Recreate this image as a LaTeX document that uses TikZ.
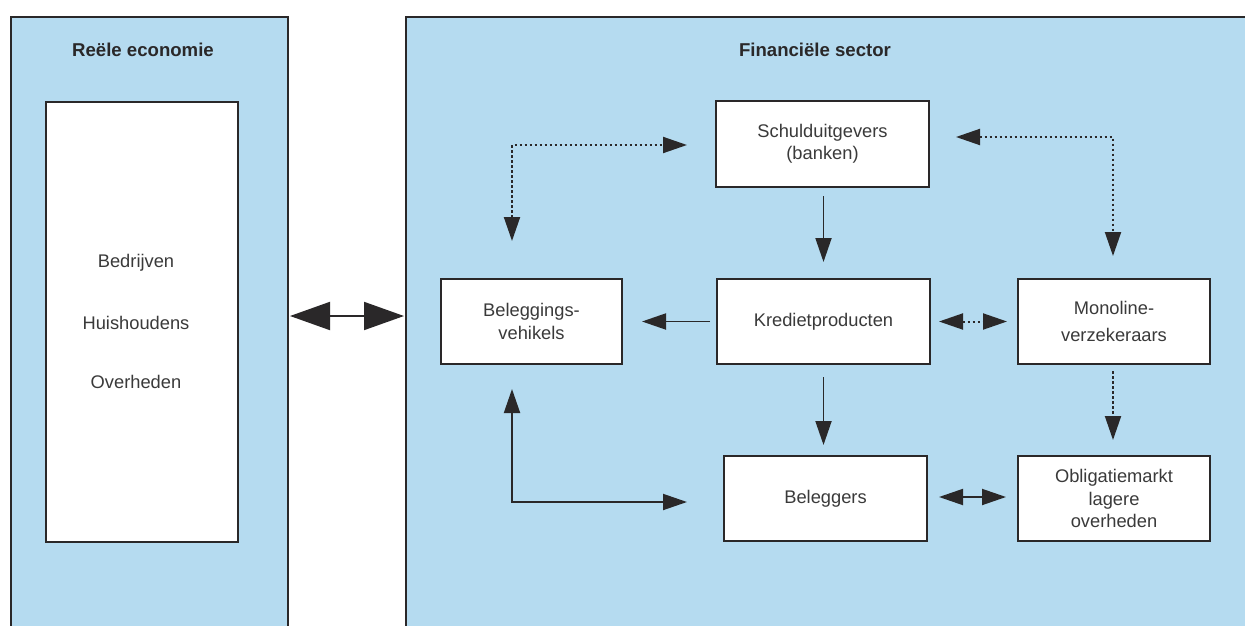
\documentclass[tikz,border=0pt]{standalone}
\usepackage{fontspec}
\setmainfont{Liberation Sans}
\usetikzlibrary{arrows.meta,calc}
\definecolor{panelblue}{HTML}{B5DBF0}
\definecolor{edge}{HTML}{2A2829}
\definecolor{txt}{HTML}{3A3A3A}
\begin{document}
\begin{tikzpicture}[x=1pt,y=-1pt,
  panel/.style={draw=edge,line width=2pt,fill=panelblue,anchor=north west,inner sep=0pt},
  wbox/.style={draw=edge,line width=2pt,fill=white,inner sep=0pt,align=center,text=txt,
    font=\fontsize{18.3}{22.5}\selectfont},
  ttl/.style={font=\fontsize{18.6}{22}\selectfont\bfseries,text=edge},
  plain/.style={font=\fontsize{18.3}{22.5}\selectfont,text=txt},
  sol/.style={draw=edge,line width=1.9pt},
  dotl/.style={draw=edge,line width=2pt,dash pattern=on 2.5pt off 2.5pt},
  tip/.tip={Triangle[length=24pt,width=16pt]},
  bigtip/.tip={Triangle[length=40pt,width=28pt]}]
\useasboundingbox (0,0) rectangle (1245,626);
\clip (0,0) rectangle (1245,626);
% panels
\node[panel,minimum width=277pt,minimum height=640pt] (reel) at (10,16) {};
\node[panel,minimum width=880pt,minimum height=640pt] (fin) at (405,16) {};
\node[ttl] (reelt) at (143,50) {Reële economie};
\node[ttl] (fint) at (815,50) {Financiële sector};
% left inner box
\node[wbox,anchor=north west,minimum width=192pt,minimum height=440pt] (inner) at (45,101) {};
\node[plain] (bed) at (136,263) {Bedrijven};
\node[plain] (hui) at (136,323) {Huishoudens};
\node[plain] (ovh) at (136,382) {Overheden};
% boxes
\node[wbox,minimum width=213pt,minimum height=86pt] (sd) at (822.5,144) {Schulduitgevers\\(banken)};
\node[wbox,minimum width=181pt,minimum height=85pt] (bv) at (531.5,321.5) {Beleggings-\\vehikels};
\node[wbox,minimum width=213pt,minimum height=85pt] (kp) at (823.5,321.5) {Kredietproducten};
\node[wbox,minimum width=192pt,minimum height=85pt] (ml) at (1114,321.5) {Monoline-\\[5pt]verzekeraars};
\node[wbox,minimum width=203pt,minimum height=85pt] (bl) at (825.5,498.5) {Beleggers};
\node[wbox,minimum width=192pt,minimum height=85pt] (om) at (1114,498.5) {Obligatiemarkt\\lagere\\overheden};
% helper coordinates
\coordinate (ya) at (0,316);
\coordinate (cl) at (512,145);
\coordinate (cr) at (1113,137);
\coordinate (cb) at (512,502);
% big double arrow
\draw[sol,{bigtip}-{bigtip},shorten <=1pt,shorten >=1pt] (reel.east |- ya) -- (fin.west |- ya);
% dotted top left
\draw[dotl,{tip}-{tip}] ([yshift=37pt]bv.north -| cl) -- (cl) -- ([xshift=-28pt]sd.west |- cl);
% dotted top right
\draw[dotl,{tip}-{tip}] ([xshift=26pt]sd.east |- cr) -- (cr) -- ([yshift=22pt]ml.north -| cr);
% solid vertical
\draw[sol,-{tip}] ([yshift=-8pt]sd.south -| kp.north) -- ([yshift=16pt]kp.north);
\draw[sol,-{tip}] ([xshift=-6pt]kp.west) -- ([xshift=19pt]bv.east);
\draw[dotl,{tip}-{tip}] ([xshift=8pt]kp.east) -- ([xshift=-10pt]ml.west);
\draw[sol,-{tip}] ([yshift=-12pt]kp.south) -- ([yshift=10pt]kp.south |- bl.north);
\draw[dotl,-{tip}] ([yshift=-6pt]ml.south -| cr) -- ([yshift=15pt]om.north -| cr);
% solid L bottom left
\draw[sol,{tip}-{tip}] ([yshift=-24pt]bv.south -| cb) -- (cb) -- ([xshift=-36pt]bl.west |- cb);
% beleggers <-> obligatiemarkt
\draw[sol,{tip}-{tip}] ([xshift=11pt]bl.east |- 0,497) -- ([xshift=-11pt]om.west |- 0,497);
\end{tikzpicture}
\end{document}
